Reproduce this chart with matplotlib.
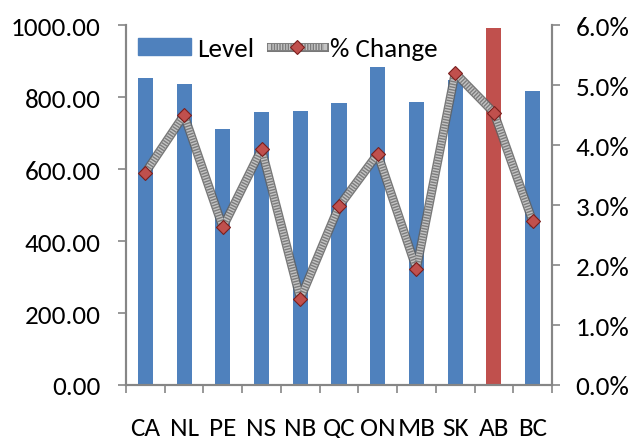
import matplotlib.pyplot as plt
import numpy as np
from matplotlib.legend_handler import HandlerTuple
from matplotlib.patches import Patch

provinces = ['CA', 'NL', 'PE', 'NS', 'NB', 'QC', 'ON', 'MB', 'SK', 'AB', 'BC']
level = [852, 836, 710, 759, 761, 783, 882, 786, 847, 992, 818]
pct_change = [3.54, 4.50, 2.63, 3.93, 1.44, 2.98, 3.85, 1.94, 5.20, 4.54, 2.73]
highlight = 'AB'

plt.rcParams['font.family'] = ['Carlito', 'Lato', 'DejaVu Sans']
plt.rcParams['lines.scale_dashes'] = False
blue = '#4f81bd'
red = '#c0504d'
grey = '#868686'
fs = 19.5

fig = plt.figure(figsize=(6.34, 4.39), dpi=100)
ax = fig.add_axes([126 / 634, 1 - 386 / 439, 426 / 634, 360 / 439])
x = np.arange(len(provinces))
colors = [red if p == highlight else blue for p in provinces]
ax.bar(x, level, width=0.39, color=colors, zorder=2)
ax.set_xlim(-0.5, len(provinces) - 0.5)
ax.set_ylim(0, 1000)
ax.set_yticks(np.arange(0, 1001, 200))
ax.set_yticklabels(['%.2f' % v for v in np.arange(0, 1001, 200)])
ax.set_xticks(x)
ax.set_xticklabels(provinces)
ax.set_xticks(np.arange(-0.5, len(provinces), 1), minor=True)
ax.tick_params(axis='x', which='major', length=0, pad=22, labelsize=fs)
ax.tick_params(axis='x', which='minor', length=6, color=grey, width=1.2)
ax.tick_params(axis='y', length=6, color=grey, width=1.2, labelsize=fs, pad=12)
ax.spines['top'].set_visible(False)
for s in ['left', 'bottom', 'right']:
    ax.spines[s].set_color(grey)
    ax.spines[s].set_linewidth(1.5)

ax2 = ax.twinx()
ax2.set_ylim(0, 6)
ax2.set_yticks(np.arange(0, 6.1, 1))
ax2.set_yticklabels(['%.1f%%' % v for v in np.arange(0, 6.1, 1)])
ax2.tick_params(axis='y', length=6, color=grey, width=1.2, labelsize=fs, pad=11)
ax2.spines['top'].set_visible(False)
for s in ['left', 'bottom', 'right']:
    ax2.spines[s].set_color(grey)
    ax2.spines[s].set_linewidth(1.5)

# hatched grey line: dark edge, light fill, dotted texture
l1, = ax2.plot(x, pct_change, color='#606060', lw=6.5, alpha=0.85, zorder=3)
l2, = ax2.plot(x, pct_change, color='#c4c4c4', lw=4.5, zorder=4)
l3, = ax2.plot(x, pct_change, color='#7c7c7c', lw=4.5, ls=(0, (1, 1)), zorder=4)
l4, = ax2.plot(x, pct_change, ls='none', marker='D', ms=7.5, mfc=red, mec='#7a1f1d',
               mew=0.8, zorder=5)

handles = [Patch(color=blue), (l1, l2, l3, l4)]
ax2.legend(handles, ['Level', '% Change'], loc='upper left', bbox_to_anchor=(0.0, 1.0),
           ncol=2, frameon=False, fontsize=fs, handlelength=1.96, handleheight=0.6,
           columnspacing=0.6, handletextpad=0.22, borderaxespad=0.25, borderpad=0.2,
           handler_map={tuple: HandlerTuple(ndivide=1, pad=0)})

fig.savefig('out.png', dpi=100)
